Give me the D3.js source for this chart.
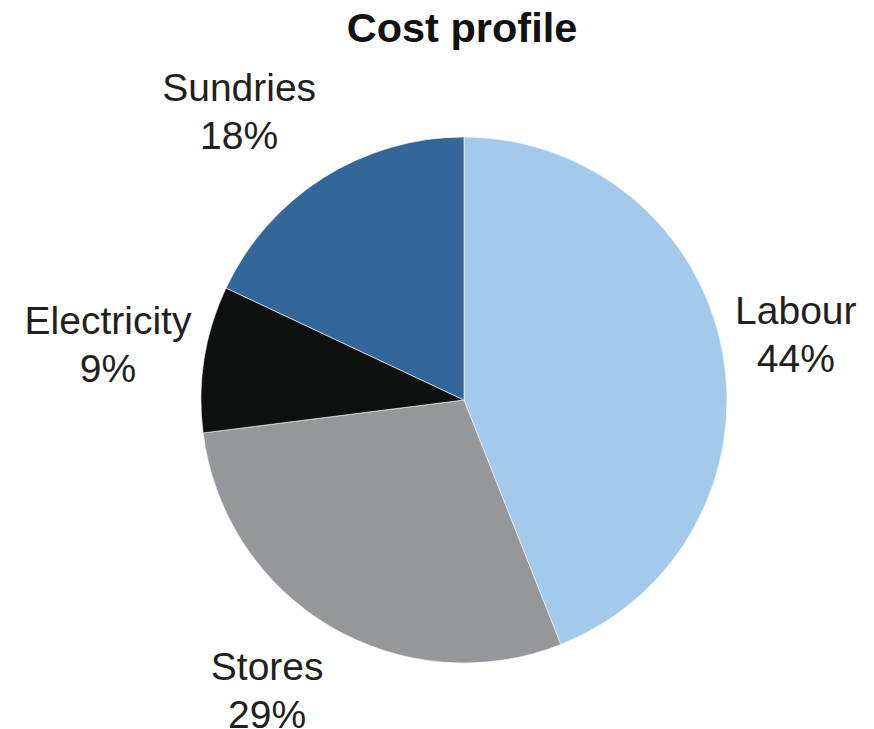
<!DOCTYPE html>
<html>
<head>
<meta charset="utf-8">
<script src="https://cdn.jsdelivr.net/npm/d3@7"></script>
<style>
  html, body { margin: 0; padding: 0; background: #fff; }
  svg { display: block; }
</style>
</head>
<body>
<svg id="chart" width="874" height="729"></svg>
<script>
// Cost breakdown, percent of total
const categories = ["Labour", "Stores", "Electricity", "Sundries"];
const shares = [44, 29, 9, 18];
const sliceColors = ["#a3c9eb", "#96979b", "#0f1110", "#336699"];
const chartTitle = "Cost profile";

const width = 874, height = 729;
const cx = 464, cy = 400, radius = 263;
const gapX = 13, gapY = 20;
const fontSize = 39, lineGap = 48;

const svg = d3.select("#chart");

svg.append("text")
  .attr("x", 462)
  .attr("y", 42)
  .attr("text-anchor", "middle")
  .attr("font-family", "Liberation Sans, Arial, sans-serif")
  .attr("font-weight", "bold")
  .attr("font-size", 41.5)
  .attr("fill", "#111")
  .text(chartTitle);

const data = categories.map((c, i) => ({ name: c, value: shares[i], color: sliceColors[i] }));

const pie = d3.pie().value(d => d.value).sort(null);
const arc = d3.arc().innerRadius(0).outerRadius(radius);
const arcs = pie(data);

const g = svg.append("g").attr("transform", `translate(${cx},${cy})`);

g.selectAll("path.slice")
  .data(arcs)
  .join("path")
  .attr("class", "slice")
  .attr("d", arc)
  .attr("fill", d => d.data.color)
  .attr("stroke", "#ffffff")
  .attr("stroke-width", 0.6)
  .attr("stroke-linejoin", "round");

// Outside-end labels: the box is anchored just beyond the rim at the slice's
// mid angle and hangs away from the pie on the side the slice faces.
const shiftX = v => Math.sign(v) * Math.min(1, Math.abs(v) * 2);
const shiftY = v => Math.sign(v) * Math.min(1, Math.abs(v) * 1.25);

const labels = g.selectAll("g.label")
  .data(arcs)
  .join("g")
  .attr("class", "label");

labels.each(function(d) {
  const lg = d3.select(this);
  const lines = [d.data.name, d3.format(".0f")(d.data.value) + "%"];
  const texts = lines.map((s, i) => lg.append("text")
    .attr("text-anchor", "middle")
    .attr("font-family", "Liberation Sans, Arial, sans-serif")
    .attr("font-size", fontSize)
    .attr("fill", "#231f20")
    .attr("y", -12 + i * lineGap)
    .text(s));
  const w = d3.max(texts, t => t.node().getComputedTextLength());
  const hw = w / 2, hh = lineGap;
  const mid = (d.startAngle + d.endAngle) / 2;
  const ux = Math.sin(mid), uy = -Math.cos(mid);
  const px = (radius + gapX) * ux, py = (radius + gapY) * uy;
  lg.attr("transform", `translate(${px + hw * shiftX(ux)},${py + hh * shiftY(uy)})`);
});
</script>
</body>
</html>
